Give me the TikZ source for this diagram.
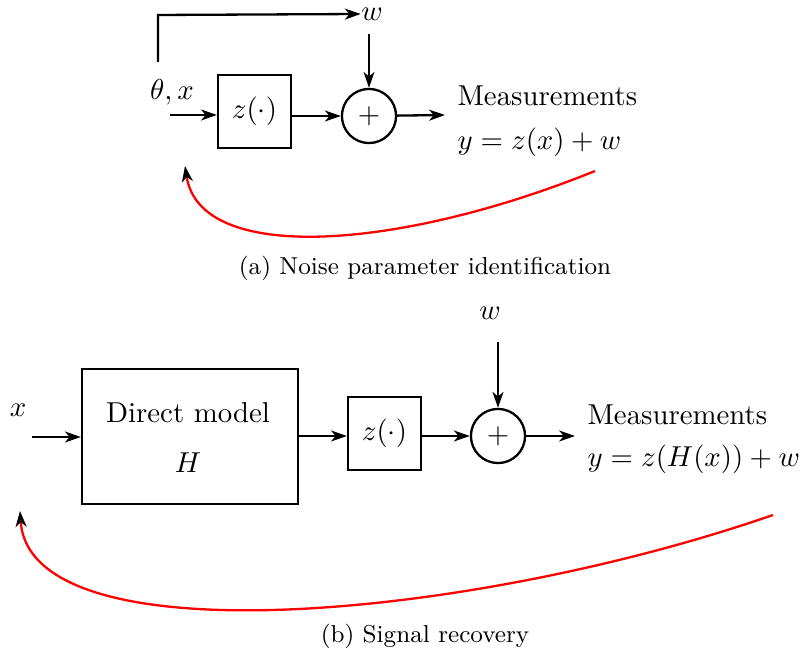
\documentclass[tikz,border=0pt]{standalone}
\usepackage{amsmath}
\usepackage{amssymb}
\usepackage{tikz}
\usetikzlibrary{arrows.meta}
\tikzset{
	blockstyle/.style={rectangle,draw=black,thick,minimum size=25.3pt,inner sep=0pt},
	bigblockstyle/.style={rectangle,draw=black,thick,minimum width=75pt,minimum height=46.9pt,inner sep=0pt},
	sumstyle/.style={circle,draw=black,thick,minimum size=18.8pt,inner sep=0pt},
	labelstyle/.style={inner sep=0pt},
	captionstyle/.style={inner sep=0pt,font=\fontsize{8.5}{10}\selectfont},
	flowstyle/.style={thick,-{Stealth[length=5.5pt,width=3.8pt,inset=1.6pt]}},
	feedbackstyle/.style={draw=red,thick,-{Stealth[black,length=5.5pt,width=3.8pt,inset=1.6pt]}}
}

\begin{document}
\begin{tikzpicture}[x=0.3472pt,y=-0.3472pt]
		\useasboundingbox (0,0) rectangle (801,653);
		% (a)
		\node[labelstyle] (wa) at (372,14) {$w$};
		\node[labelstyle] (tha) at (172,92) {$\theta,x$};
		\node[blockstyle] (za) at (254.5,111.5) {$z(\cdot)$};
		\node[sumstyle] (sa) at (369,116) {$+$};
		\node[labelstyle,anchor=base west] (ma) at (457,106) {Measurements};
		\node[labelstyle,anchor=base west] (ya) at (457,150) {$y=z(x)+w$};
		\coordinate (ina) at (170,115);
		\coordinate (outa) at (445,115);
		\coordinate (upa) at (158,62);
		\coordinate (topa) at (158,15);
		\coordinate (fba) at (595,171);
		\coordinate (fbea) at (185,166);
		\draw[flowstyle] (ina)--(za.west |- ina);
		\draw[flowstyle] (za.east |- sa)--(sa);
		\draw[flowstyle] (sa)--(outa);
		\draw[flowstyle] (sa.north |- 0,34)--(sa.north);
		\draw[flowstyle] (upa)--(topa)--(wa.west);
		\draw[feedbackstyle] (fba) .. controls (400,250) and (200,265) .. (fbea);
		\node[captionstyle] (capa) at (425,268) {(a) Noise parameter identification};
		% (b)
		\node[labelstyle] (wb) at (490,313) {$w$};
		\node[labelstyle] (xb) at (18,410) {$x$};
		\node[bigblockstyle] (hb) at (190,436.5) {};
		\node[labelstyle] (dmb) at (188,413) {Direct model};
		\node[labelstyle] (hlb) at (188,463) {$H$};
		\node[blockstyle] (zb) at (384.5,433.5) {$z(\cdot)$};
		\node[sumstyle] (sb) at (498,436) {$+$};
		\node[labelstyle,anchor=base west] (mb) at (587,425) {Measurements};
		\node[labelstyle,anchor=base west] (yb) at (587,467) {$y=z(H(x))+w$};
		\coordinate (inb) at (32,437);
		\coordinate (outb) at (575,436);
		\coordinate (fbb) at (773,515);
		\coordinate (fbeb) at (20,511);
		\draw[flowstyle] (inb)--(hb.west |- inb);
		\draw[flowstyle] (hb.east |- sb)--(zb.west |- sb);
		\draw[flowstyle] (zb.east |- sb)--(sb);
		\draw[flowstyle] (sb)--(outb);
		\draw[flowstyle] (sb.north |- 0,342)--(sb.north);
		\draw[feedbackstyle] (fbb) .. controls (470,620) and (30,660) .. (fbeb);
		\node[captionstyle] (capb) at (425,636) {(b) Signal recovery};
		\end{tikzpicture}
\end{document}
